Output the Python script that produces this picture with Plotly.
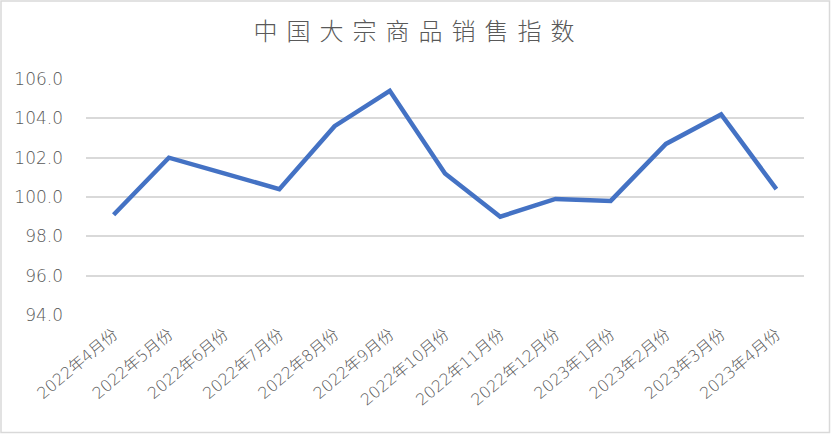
import plotly.graph_objects as go

categories = ["2022年4月份", "2022年5月份", "2022年6月份", "2022年7月份", "2022年8月份",
              "2022年9月份", "2022年10月份", "2022年11月份", "2022年12月份", "2023年1月份",
              "2023年2月份", "2023年3月份", "2023年4月份"]
values = [99.1, 102.0, 101.2, 100.4, 103.6, 105.4, 101.2, 99.0, 99.9, 99.8, 102.7, 104.2, 100.4]
y_ticks = [94, 96, 98, 100, 102, 104, 106]
title_text = "中国大宗商品销售指数"

W, H = 831, 434
L, R, T, B = 86, 27, 79, 119
pw, ph = W - L - R, H - T - B

fig = go.Figure()
fig.add_trace(go.Scatter(
    x=list(range(len(categories))), y=values, mode="lines",
    line=dict(color="#4472C4", width=4.5, shape="linear"),
    hoverinfo="skip", showlegend=False,
))

num_font = "DejaVu Sans, Noto Sans CJK SC, sans-serif"
title_font = "Noto Sans CJK SC, sans-serif"
fig.update_layout(
    width=W, height=H,
    margin=dict(l=L, r=R, t=T, b=B, autoexpand=False),
    paper_bgcolor="white", plot_bgcolor="white",
    title=dict(text=title_text, x=418.5 / W, xanchor="center", y=1 - 32 / H, yanchor="middle",
               font=dict(family=title_font, size=24, color="#595959", weight=300)),
    xaxis=dict(
        tickmode="array", tickvals=list(range(len(categories))), ticktext=categories,
        range=[-0.5, len(categories) - 0.5], showgrid=False, zeroline=False,
        showline=False, tickangle=-40, ticks="", ticklabelstandoff=6,
        tickfont=dict(family=num_font, size=16, color="#595959", weight=300),
    ),
    yaxis=dict(
        range=[94, 106], tickvals=y_ticks, tickformat=".1f",
        showgrid=True, gridcolor="#D9D9D9", gridwidth=1.5, zeroline=False,
        showline=False, ticks="", ticklabelstandoff=22,
        tickfont=dict(family=num_font, size=17, color="#595959", weight=300),
    ),
    shapes=[dict(
        type="rect", xref="paper", yref="paper",
        x0=(1 - L) / pw, x1=(W - 1.5 - L) / pw,
        y0=(T + ph - (H - 1.5)) / ph, y1=(T + ph - 1) / ph,
        line=dict(color="#D9D9D9", width=1.5), fillcolor="rgba(0,0,0,0)", layer="below",
    )],
)

post_js = """
document.body.style.margin = '0';
document.body.style.padding = '0';
document.body.style.overflow = 'hidden';
var t = document.querySelector('.gtitle');
if (t) { t.style.letterSpacing = '9px'; }
"""
fig.write_html("out.html", post_script=post_js, config={"displayModeBar": False})
